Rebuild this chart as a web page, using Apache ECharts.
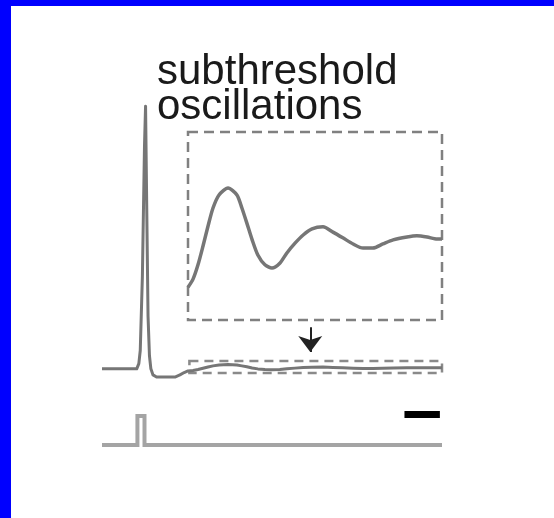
<!DOCTYPE html>
<html>
<head>
<meta charset="utf-8">
<script src="https://cdn.jsdelivr.net/npm/echarts@6/dist/echarts.min.js"></script>
<style>
html,body{margin:0;padding:0;background:#fff;}
#c{width:554px;height:518px;}
</style>
</head>
<body>
<div id="c"></div>
<script>
// ---- data (time in ms, voltage in mV, current in arbitrary units) ----
var labelLines = ['subthreshold', 'oscillations'];

// membrane potential: baseline, spike, AHP
var spikeTrace = [
  [0,-65],[49,-65],[52,-63],[54,-58],[57,-30],[60,20],[61.5,35],[63,0],[65,-45],
  [67,-60],[69,-65],[72,-67.3],[77,-68.1],[103,-68.1],[110,-67.3],[116,-66.4]
];
// subthreshold oscillation after the spike (same recording, shown magnified in inset)
var oscTrace = [
  [121.4,-65.8],[128.5,-65.6],[135.5,-65.25],[142.6,-64.79],[149.7,-64.3],[156.7,-63.86],
  [165.2,-63.54],[177.9,-63.37],[190.5,-63.54],[197.5,-63.86],[204.5,-64.23],
  [212,-64.64],[220,-65.01],[230,-65.25],[240,-65.33],[251,-65.21],[261,-64.96],
  [272.5,-64.72],[284,-64.52],[296.5,-64.37],[312,-64.32],[326,-64.45],[340,-64.59],
  [354.5,-64.74],[368.5,-64.84],[382.5,-64.84],[396.5,-64.74],[411,-64.64],[430.5,-64.57],
  [444.5,-64.54],[459,-64.57],[473,-64.62],[480,-64.62]
];
// zoom window (time range, voltage range)
var zoomT = [121.4, 480];
var zoomV = [-66.6, -62.0];
// stimulus current pulse
var stimTrace = [[0,0],[50,0],[50,1],[60,1],[60,0],[480,0]];
// time scale bar: 50 ms
var scaleBar = [[427,1.05],[477,1.05]];
// arrow (time, voltage start/end)
var arrowT = 294;
var arrowV = [-49.2, -58.6];

var fullTrace = spikeTrace.concat(oscTrace);

var chart = echarts.init(document.getElementById('c'), null, {renderer:'canvas'});
var GRAY = '#767676';
var font = '42px "Liberation Sans", Arial, sans-serif';

var option = {
  animation: false,
  backgroundColor: '#ffffff',
  grid: [
    {left: 102, top: 93, width: 340, height: 289, show: false},
    {left: 188, top: 132, width: 254, height: 188, show: false},
    {left: 102, top: 401.5, width: 340, height: 58, show: false}
  ],
  xAxis: [
    {gridIndex:0, type:'value', min:0, max:480, show:false},
    {gridIndex:1, type:'value', min:zoomT[0], max:zoomT[1], show:false},
    {gridIndex:2, type:'value', min:0, max:480, show:false}
  ],
  yAxis: [
    {gridIndex:0, type:'value', min:-70, max:40, show:false},
    {gridIndex:1, type:'value', min:zoomV[0], max:zoomV[1], show:false},
    {gridIndex:2, type:'value', min:-0.5, max:1.5, show:false}
  ],
  graphic: [
    {type:'rect', shape:{x:0,y:0,width:554,height:6}, style:{fill:'#0000ff'}, z:100},
    {type:'rect', shape:{x:0,y:0,width:11,height:518}, style:{fill:'#0000ff'}, z:100},
    {type:'text', style:{text:labelLines[0], x:157, y:93, font:font, fill:'#1a1a1a', textVerticalAlign:'bottom'}},
    {type:'text', style:{text:labelLines[1], x:157, y:128, font:font, fill:'#1a1a1a', textVerticalAlign:'bottom'}}
  ],
  series: [
    {
      type:'line', xAxisIndex:0, yAxisIndex:0, data: fullTrace, showSymbol:false, symbol:'none',
      lineStyle:{color:GRAY, width:3, join:'round'}, smooth:false, clip:false,
      markArea: {
        silent:true,
        itemStyle:{color:'rgba(0,0,0,0)', borderColor:'#8a8a8a', borderWidth:2.5, borderType:[9,6]},
        data:[[{coord:[zoomT[0]+2, zoomV[1]]},{coord:[zoomT[1], zoomV[0]]}]]
      },
      markLine: {
        silent:true, symbol:['none','arrow'], symbolSize:[18,16],
        label:{show:false},
        lineStyle:{color:'#222', width:2, type:'solid'},
        data:[[{coord:[arrowT, arrowV[0]]},{coord:[arrowT, arrowV[1]]}]]
      }
    },
    {
      type:'line', xAxisIndex:1, yAxisIndex:1, data: oscTrace, showSymbol:false, symbol:'none',
      lineStyle:{color:GRAY, width:3.5, join:'round'}, smooth:0.25, clip:false,
      markArea: {
        silent:true,
        itemStyle:{color:'rgba(0,0,0,0)', borderColor:'#808080', borderWidth:2.5, borderType:[10,6]},
        data:[[{coord:[zoomT[0], zoomV[1]]},{coord:[zoomT[1], zoomV[0]]}]]
      }
    },
    {
      type:'line', xAxisIndex:2, yAxisIndex:2, data: stimTrace, showSymbol:false, symbol:'none',
      lineStyle:{color:'#a4a4a4', width:4, join:'miter'}, clip:false
    },
    {
      type:'line', xAxisIndex:2, yAxisIndex:2, data: scaleBar, showSymbol:false, symbol:'none',
      lineStyle:{color:'#000', width:7, cap:'butt'}, clip:false
    }
  ]
};
chart.setOption(option);
</script>
</body>
</html>
